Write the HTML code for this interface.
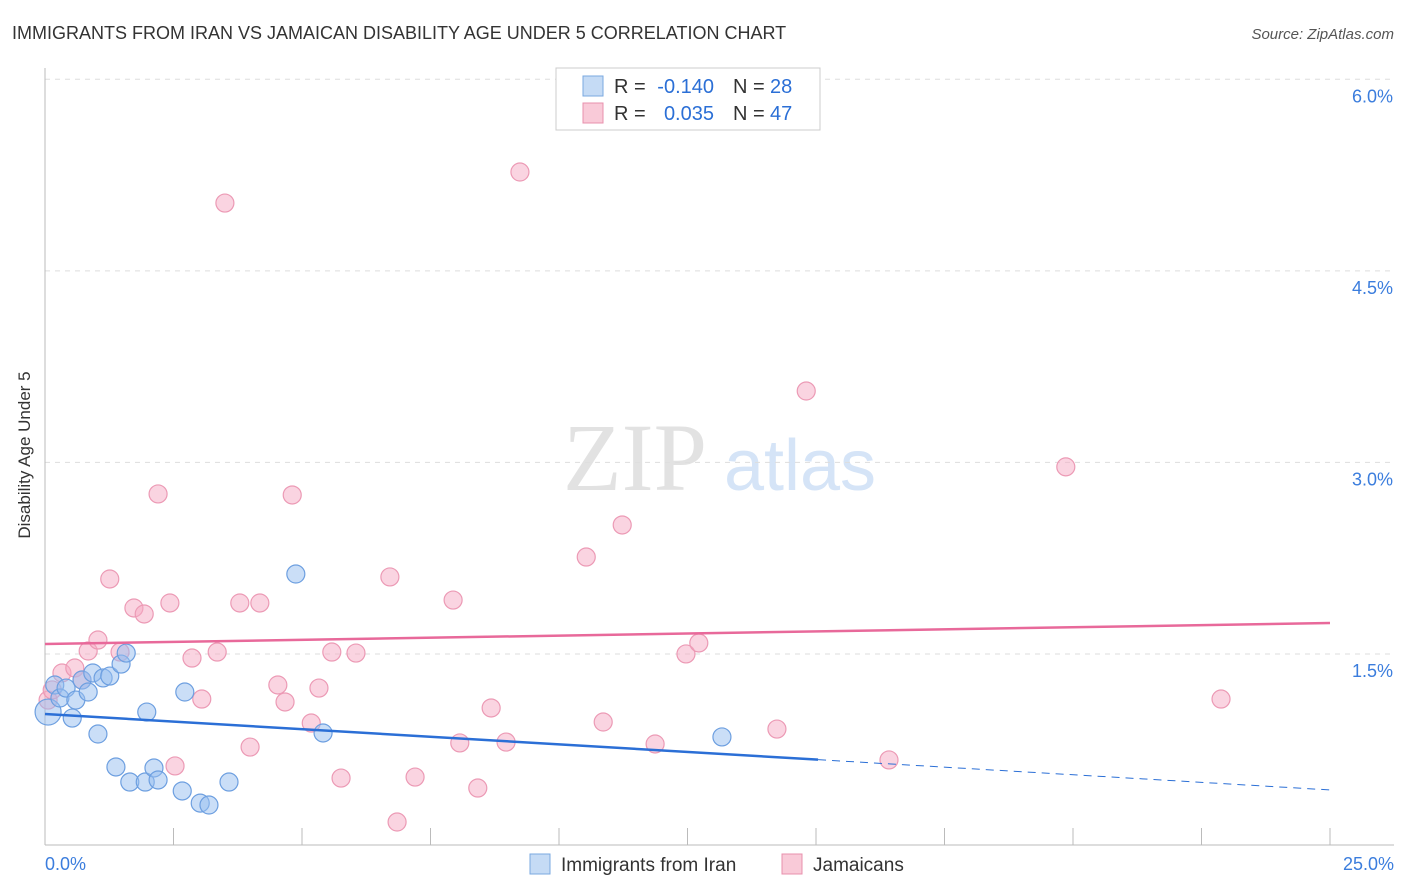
<!DOCTYPE html>
<html><head><meta charset="utf-8"><style>
body{margin:0;background:#fff;font-family:"Liberation Sans",sans-serif;}
svg{display:block}
</style></head><body>
<svg id="c" width="1406" height="892">
<text x="12" y="39" font-size="18" fill="#333">IMMIGRANTS FROM IRAN VS JAMAICAN DISABILITY AGE UNDER 5 CORRELATION CHART</text>
<text x="1394" y="39" font-size="15" fill="#555" text-anchor="end" font-style="italic">Source: ZipAtlas.com</text>
<text x="30" y="455" font-size="17" fill="#333" text-anchor="middle" transform="rotate(-90 30 455)">Disability Age Under 5</text>
<g><text x="635" y="490" font-size="96" fill="#e2e2e2" font-family="Liberation Serif,serif" text-anchor="middle">ZIP</text><text x="800" y="490" font-size="72" fill="#d5e4f7" text-anchor="middle">atlas</text></g>
<g id="grid"></g><g id="axes"></g><g id="pts"></g><g id="lines"></g>
<g>
<rect x="556" y="68" width="264" height="62" fill="#fff" stroke="#ccc"/>
<rect x="583" y="76" width="20" height="20" fill="#c5dbf5" stroke="#7aa8e0"/>
<rect x="583" y="103" width="20" height="20" fill="#f9cad8" stroke="#e890ad"/>
<text x="614" y="93" font-size="20" fill="#333">R =</text>
<text x="714" y="93" font-size="20" fill="#2b6fd6" text-anchor="end">-0.140</text>
<text x="733" y="93" font-size="20" fill="#333">N =</text>
<text x="770" y="93" font-size="20" fill="#2b6fd6">28</text>
<text x="614" y="120" font-size="20" fill="#333">R =</text>
<text x="714" y="120" font-size="20" fill="#2b6fd6" text-anchor="end">0.035</text>
<text x="733" y="120" font-size="20" fill="#333">N =</text>
<text x="770" y="120" font-size="20" fill="#2b6fd6">47</text>
</g>
<g>
<rect x="530" y="854" width="20" height="20" fill="#c5dbf5" stroke="#7aa8e0"/>
<text x="561" y="871" font-size="19" fill="#333">Immigrants from Iran</text>
<rect x="782" y="854" width="20" height="20" fill="#f9cad8" stroke="#e890ad"/>
<text x="813" y="871" font-size="19" fill="#333">Jamaicans</text>
</g>
</svg>
<script>
const yTicks=[1.5,3.0,4.5,6.0];
const yTickLabels=["1.5%","3.0%","4.5%","6.0%"];
const xTickLabels=["0.0%","25.0%"];
const blueX=[0.06,0.19,0.29,0.41,0.53,0.60,0.72,0.84,0.93,1.03,1.13,1.26,1.38,1.48,1.58,1.65,1.95,1.98,2.12,2.20,2.67,2.72,3.02,3.19,3.58,4.88,5.41,13.17];
const blueY=[1.045,1.257,1.155,1.233,0.998,1.139,1.296,1.202,1.351,0.873,1.312,1.327,0.615,1.421,1.507,0.497,0.497,1.045,0.607,0.513,0.427,1.202,0.332,0.317,0.497,2.126,0.881,0.850];
const pinkX=[0.06,0.14,0.33,0.58,0.72,0.84,1.03,1.26,1.46,1.73,1.93,2.20,2.43,2.53,2.86,3.05,3.35,3.50,3.79,3.99,4.18,4.53,4.67,4.81,5.18,5.33,5.58,5.76,6.05,6.71,6.85,7.20,7.94,8.07,8.42,8.68,8.97,9.24,10.53,10.86,11.23,11.87,12.47,12.72,14.24,14.81,16.42,19.86,22.88];
const pinkY=[1.139,1.218,1.351,1.390,1.296,1.523,1.609,2.087,1.515,1.860,1.813,2.753,1.899,0.623,1.468,1.147,1.515,5.031,1.899,0.771,1.899,1.257,1.124,2.745,0.959,1.233,1.515,0.528,1.507,2.103,0.184,0.536,1.922,0.803,0.450,1.077,0.810,5.274,2.259,0.967,2.510,0.795,1.500,1.586,0.912,3.559,0.670,2.965,1.147];
const blueTrend=[1.030,0.435];
const pinkTrend=[1.578,1.742];
const X0=45,X1=1330,Y0=845.5,YS=127.7;
const sx=v=>X0+v/25*(X1-X0), sy=v=>Y0-v*YS;
const NS="http://www.w3.org/2000/svg";
function mk(p,t,a){const e=document.createElementNS(NS,t);for(const k in a)e.setAttribute(k,a[k]);document.getElementById(p).appendChild(e);return e;}
yTicks.forEach((t,i)=>{
 const l=mk('grid','line',{x1:X0,x2:1394,y1:sy(t),y2:sy(t),stroke:'#ddd','stroke-dasharray':'5,5'});
 
 
 const tx=mk('grid','text',{x:1393,y:sy(t)+23,'font-size':18,fill:'#3b7ddd','text-anchor':'end'});
 tx.textContent=yTickLabels[i];
 
 
});
const ax=mk('axes','line',{x1:X0,x2:X0,y1:68,y2:845,stroke:'#bbb'});


const bx=mk('axes','line',{x1:X0,x2:1394,y1:845,y2:845,stroke:'#bbb'});


for(let i=1;i<=10;i++){
 const t=mk('axes','line',{x1:sx(i*2.5),x2:sx(i*2.5),y1:828,y2:845,stroke:'#bbb'});
 
 
}
[[0,'start',45],[25,'end',1394]].forEach((d,i)=>{
 const t=mk('axes','text',{x:d[2],y:870,'font-size':18,fill:'#3b7ddd','text-anchor':d[1]});
 t.textContent=xTickLabels[i];
 
 
});
pinkX.forEach((x,i)=>{
 const c=mk('pts','circle',{cx:sx(x),cy:sy(pinkY[i]),r:9,fill:'rgba(245,170,195,0.5)',stroke:'#ec9ab5','stroke-width':1.2});
 
 
});
blueX.forEach((x,i)=>{
 const c=mk('pts','circle',{cx:sx(x),cy:sy(blueY[i]),r:i==0?13:9,fill:'rgba(150,190,240,0.5)',stroke:'#6d9fe0','stroke-width':1.2});
 
 
});
const bAt=x=>blueTrend[0]+(blueTrend[1]-blueTrend[0])*x/25;
const l1=mk('lines','line',{x1:sx(0),y1:sy(bAt(0)),x2:sx(15.04),y2:sy(bAt(15.04)),stroke:'#2b6fd6','stroke-width':2.5});


const l2=mk('lines','line',{x1:sx(15.04),y1:sy(bAt(15.04)),x2:sx(25),y2:sy(bAt(25)),stroke:'#2b6fd6','stroke-width':1,'stroke-dasharray':'8,6'});


const l3=mk('lines','line',{x1:sx(0),y1:sy(pinkTrend[0]),x2:sx(25),y2:sy(pinkTrend[1]),stroke:'#e8699a','stroke-width':2.5});


</script>
</body></html>
